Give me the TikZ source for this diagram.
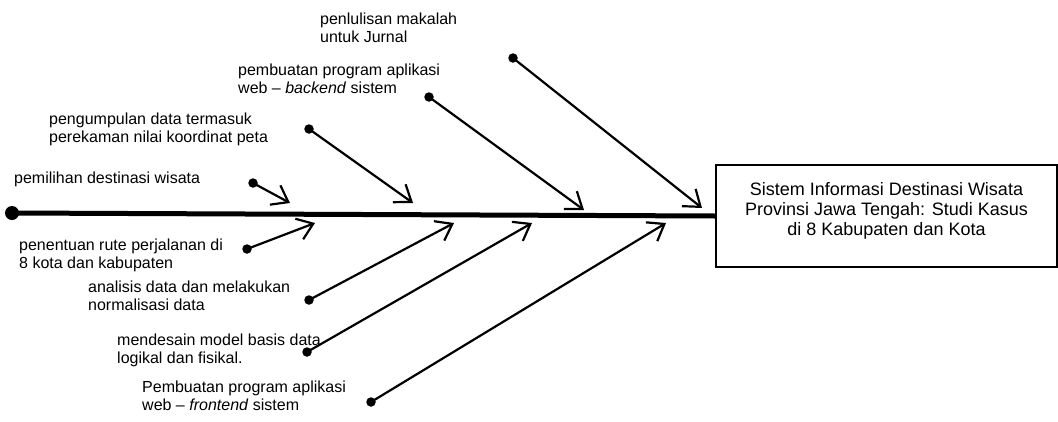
\documentclass[tikz,border=0pt]{standalone}
\usepackage{fontspec}
\setmainfont{Liberation Sans}
\usetikzlibrary{arrows.meta}

\begin{document}
\begin{tikzpicture}[x=1pt,y=-1pt,
  cause/.style={anchor=north west,inner sep=0pt,align=left,
    font=\fontsize{16}{18.5}\selectfont},
  title/.style={anchor=north,inner sep=0pt,align=center,
    font=\fontsize{18}{20}\selectfont},
  effect/.style={draw,line width=1.4pt,minimum width=341pt,minimum height=102pt,
    inner sep=0pt},
  dot/.style={circle,fill,inner sep=0pt,minimum size=9.5pt},
  headdot/.style={circle,fill,inner sep=0pt,minimum size=14pt},
  spine/.style={line width=5pt},
  bone/.style={line width=2.2pt,-{Straight Barb[length=15pt,width=22pt,line width=2.2pt]}}
]
\useasboundingbox (0,0) rectangle (1058,421);

% effect box
\node[effect] (goal) at (886.5,216) {};
\node[title] (goaltext) at (886.5,182)
  {Sistem Informasi Destinasi Wisata\\Provinsi Jawa Tengah: Studi Kasus\\di 8 Kabupaten dan Kota};

% spine
\node[headdot] (tail) at (12,213) {};
\draw[spine] (tail.center) -- (goal.west);

% upper causes
\node[cause] (c1) at (14,171.5) {pemilihan destinasi wisata};
\node[cause] (c2) at (49,112.5) {pengumpulan data termasuk\\perekaman nilai koordinat peta};
\node[cause] (c3) at (238,63.5) {pembuatan program aplikasi\\web -- \textit{backend} sistem};
\node[cause] (c4) at (320,12.5) {penlulisan makalah\\untuk Jurnal};

% lower causes
\node[cause] (c5) at (19,238.5) {penentuan rute perjalanan di\\8 kota dan kabupaten};
\node[cause] (c6) at (88,280.5) {analisis data dan melakukan\\normalisasi data};
\node[cause] (c7) at (117,333.5) {mendesain model basis data\\logikal dan fisikal.};
\node[cause] (c8) at (142,380.5) {Pembuatan program aplikasi\\web -- \textit{frontend} sistem};

% bone start points
\node[dot] (d1) at (253,183) {};
\node[dot] (d2) at (309,129) {};
\node[dot] (d3) at (429,97) {};
\node[dot] (d4) at (513,58) {};
\node[dot] (d5) at (247,249) {};
\node[dot] (d6) at (309,300) {};
\node[dot] (d7) at (307,352) {};
\node[dot] (d8) at (371,402) {};

% bone end points on the spine
\coordinate (e1) at (290,203);
\coordinate (e2) at (413,203);
\coordinate (e3) at (584,210);
\coordinate (e4) at (702,208);
\coordinate (e5) at (315,223);
\coordinate (e6) at (454,223);
\coordinate (e7) at (532,223);
\coordinate (e8) at (666,223);

\foreach \i in {1,...,8}
  \draw[bone] (d\i.center) -- (e\i);
\end{tikzpicture}
\end{document}
